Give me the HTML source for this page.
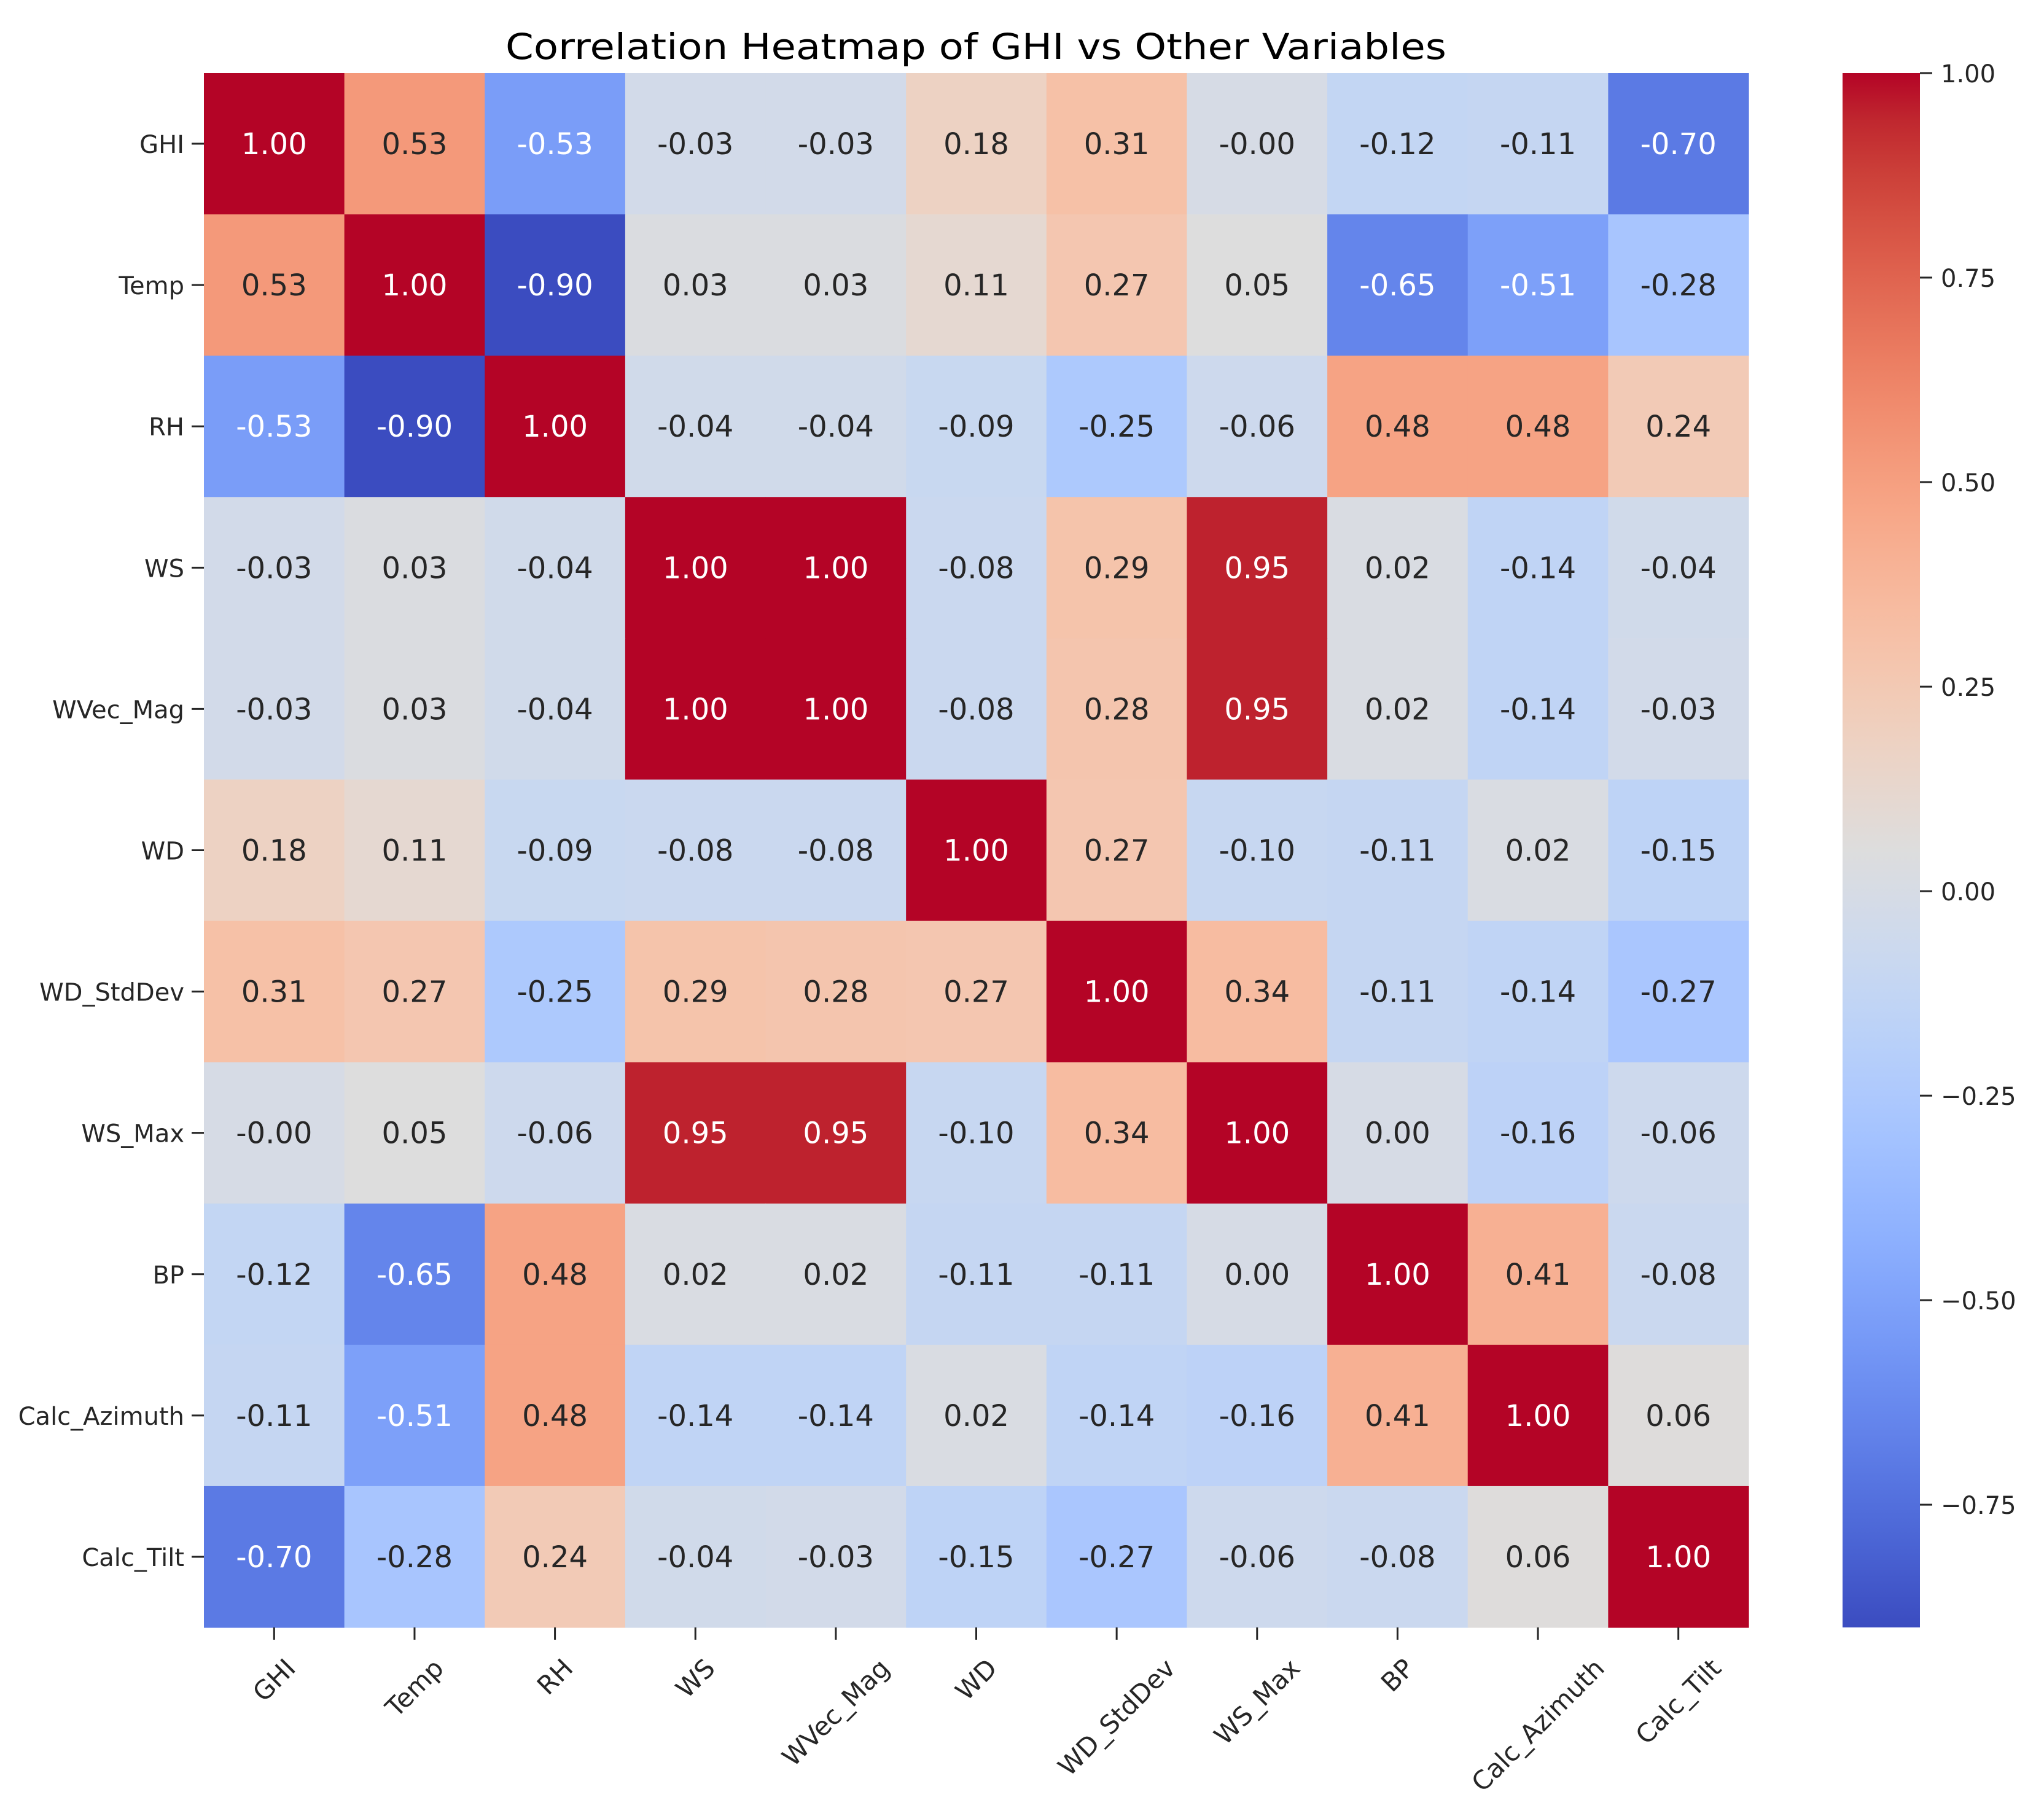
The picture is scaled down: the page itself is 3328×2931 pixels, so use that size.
<!DOCTYPE html>
<html><head><meta charset="utf-8"><style>
html,body{margin:0;padding:0;background:#fff;}
svg{display:block;font-family:"DejaVu Sans","Liberation Sans",sans-serif;}
</style></head><body>
<svg id="chart" width="3328" height="2931" viewBox="0 0 3328 2931" xmlns="http://www.w3.org/2000/svg">
<text x="1589" y="96" text-anchor="middle" font-size="58" fill="#000" textLength="1532" lengthAdjust="spacingAndGlyphs">Correlation Heatmap of GHI vs Other Variables</text>
<g id="cells"></g>
<g id="xaxis"></g>
<g id="yaxis"></g>
<defs><linearGradient id="cbgrad" x1="0" y1="1" x2="0" y2="0"></linearGradient></defs>
<rect x="3000" y="119" width="126" height="2531" fill="url(#cbgrad)"/>
<g id="cbaxis"></g>
</svg>
<script>
const labels = ["GHI","Temp","RH","WS","WVec_Mag","WD","WD_StdDev","WS_Max","BP","Calc_Azimuth","Calc_Tilt"];
const row0 = [1.00,0.53,-0.53,-0.03,-0.03,0.18,0.31,-0.001,-0.12,-0.11,-0.70];
const row1 = [0.53,1.00,-0.90,0.03,0.03,0.11,0.27,0.05,-0.65,-0.51,-0.28];
const row2 = [-0.53,-0.90,1.00,-0.04,-0.04,-0.09,-0.25,-0.06,0.48,0.48,0.24];
const row3 = [-0.03,0.03,-0.04,1.00,1.00,-0.08,0.29,0.95,0.02,-0.14,-0.04];
const row4 = [-0.03,0.03,-0.04,1.00,1.00,-0.08,0.28,0.95,0.02,-0.14,-0.03];
const row5 = [0.18,0.11,-0.09,-0.08,-0.08,1.00,0.27,-0.10,-0.11,0.02,-0.15];
const row6 = [0.31,0.27,-0.25,0.29,0.28,0.27,1.00,0.34,-0.11,-0.14,-0.27];
const row7 = [-0.001,0.05,-0.06,0.95,0.95,-0.10,0.34,1.00,0.00,-0.16,-0.06];
const row8 = [-0.12,-0.65,0.48,0.02,0.02,-0.11,-0.11,0.00,1.00,0.41,-0.08];
const row9 = [-0.11,-0.51,0.48,-0.14,-0.14,0.02,-0.14,-0.16,0.41,1.00,0.06];
const row10 = [-0.70,-0.28,0.24,-0.04,-0.03,-0.15,-0.27,-0.06,-0.08,0.06,1.00];
const matrix = [row0,row1,row2,row3,row4,row5,row6,row7,row8,row9,row10];
const cbTicks = [-0.75,-0.50,-0.25,0.00,0.25,0.50,0.75,1.00];
const vmin = -0.90, vmax = 1.00;

const NS = "http://www.w3.org/2000/svg";
const L = 332, T = 119, R = 2847, B = 2650;
const CBX = 3000, CBW = 126;
const cw = (R - L) / labels.length, ch = (B - T) / labels.length;
const xPos = i => L + i * cw;
const yPos = i => T + i * ch;
const cbY = v => B - (v - vmin) / (vmax - vmin) * (B - T);

const cw_tab = [[59,76,192],[68,90,204],[77,104,215],[87,117,225],[98,130,234],[108,142,241],[119,154,247],[130,165,251],[141,176,254],[152,185,255],[163,194,255],[174,201,253],[184,208,249],[194,213,244],[204,217,238],[213,219,230],[221,221,221],[229,216,209],[236,211,197],[241,204,184],[245,196,172],[247,187,160],[247,177,148],[247,166,135],[244,154,123],[241,141,111],[236,127,99],[229,112,88],[222,96,77],[213,80,66],[203,62,56],[192,40,47],[180,4,38]];
function cmap(t){
  t = Math.max(0, Math.min(1, t));
  const p = t * 32, i = Math.min(31, Math.floor(p)), f = p - i;
  const a = cw_tab[i], b = cw_tab[i+1];
  return [0,1,2].map(k => Math.round(a[k] + (b[k]-a[k]) * f));
}
function lum(c){
  const s = c.map(v => { v /= 255; return v <= 0.03928 ? v/12.92 : Math.pow((v+0.055)/1.055, 2.4); });
  return 0.2126*s[0] + 0.7152*s[1] + 0.0722*s[2];
}
function mk(tag, attrs, parent){
  const e = document.createElementNS(NS, tag);
  for (const k in attrs) e.setAttribute(k, attrs[k]);
  parent.appendChild(e); return e;
}
const fmt = v => (v < 0 ? "-" : "") + Math.abs(v).toFixed(2);

const cells = document.getElementById("cells");
matrix.forEach((row, r) => {
  row.forEach((v, c) => {
    const col = cmap((v - vmin) / (vmax - vmin));
    const rect = mk("rect", {x: xPos(c), y: yPos(r), width: cw + 0.6, height: ch + 0.6, fill: `rgb(${col})`}, cells);
    
    
    const t = mk("text", {x: xPos(c) + cw/2, y: yPos(r) + ch/2 + 17, "text-anchor": "middle", "font-size": "48", fill: lum(col) > 0.408 ? "#262626" : "#ffffff"}, cells);
    t.textContent = fmt(v);
    
    
  });
});

const xa = document.getElementById("xaxis"), ya = document.getElementById("yaxis");
labels.forEach((lab, i) => {
  const cx = xPos(i) + cw/2;
  const tk = mk("line", {x1: cx, y1: B, x2: cx, y2: B + 20, stroke: "#262626", "stroke-width": 3}, xa);
  
  
  const tx = mk("text", {x: cx, y: B, "text-anchor": "middle", "dominant-baseline": "central", "font-size": "42", fill: "#262626"}, xa);
  tx.textContent = lab;
  
  
  const w = tx.getComputedTextLength();
  const cyl = B + 44 + (w + 42) * 0.7071 / 2;
  tx.setAttribute("y", cyl);
  tx.setAttribute("transform", `rotate(-45 ${cx} ${cyl})`);

  const cy = yPos(i) + ch/2;
  const tk2 = mk("line", {x1: L - 20, y1: cy, x2: L, y2: cy, stroke: "#262626", "stroke-width": 3}, ya);
  
  
  const ty = mk("text", {x: L - 32, y: cy + 15, "text-anchor": "end", "font-size": "40", fill: "#262626"}, ya);
  ty.textContent = lab;
  
  
});

const grad = document.getElementById("cbgrad");
for (let i = 0; i <= 32; i++) {
  mk("stop", {offset: (i/32*100) + "%", "stop-color": `rgb(${cw_tab[i]})`}, grad);
}
const cba = document.getElementById("cbaxis");
cbTicks.forEach(v => {
  const y = cbY(v);
  const tk = mk("line", {x1: CBX + CBW, y1: y, x2: CBX + CBW + 20, y2: y, stroke: "#262626", "stroke-width": 3}, cba);
  
  
  const t = mk("text", {x: CBX + CBW + 34, y: y + 15, "font-size": "40", fill: "#262626"}, cba);
  t.textContent = (v < 0 ? "\u2212" : "") + Math.abs(v).toFixed(2);
  
  
});
</script>
</body></html>
